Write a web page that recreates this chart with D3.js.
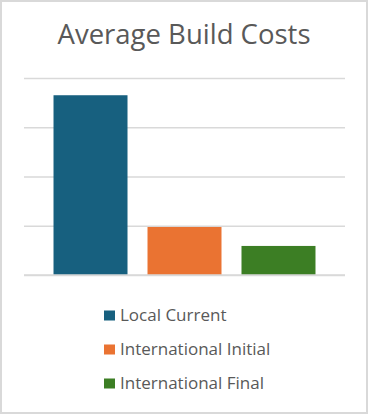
<!DOCTYPE html>
<html><head><meta charset="utf-8">
<script src="https://cdn.jsdelivr.net/npm/d3@7/dist/d3.min.js"></script>
<style>html,body{margin:0;padding:0;background:#fff;}svg{display:block;}</style>
</head><body>
<svg id="chart" width="368" height="414"></svg>
<script>
const title = "Average Build Costs";
const categories = ["Local Current", "International Initial", "International Final"];
const values = [365000, 97500, 59000];
const colors = ["#17607F", "#EA7332", "#3C7E24"];
const tickValues = [0, 100000, 200000, 300000, 400000];

const svg = d3.select("#chart");
const W = 368, H = 414;
svg.append("rect").attr("x", 1).attr("y", 1).attr("width", W - 2).attr("height", H - 2)
  .attr("fill", "#fff").attr("stroke", "#d9d9d9").attr("stroke-width", 2);

svg.append("text").attr("x", 184).attr("y", 44).attr("text-anchor", "middle")
  .attr("font-family", "Open Sans").attr("font-size", 27.5).attr("fill", "#595959")
  .text(title);

const x = d3.scaleBand().domain(categories).range([24, 345]).paddingInner(0.2128).paddingOuter(0.314);
const y = d3.scaleLinear().domain([0, 400000]).range([275, 78]);

const axis = d3.axisLeft(y).tickValues(tickValues).tickSize(-(345 - 24)).tickFormat("");
const g = svg.append("g").attr("transform", "translate(24,0)").call(axis);
g.select(".domain").remove();
g.selectAll(".tick line").attr("stroke", "#d9d9d9").attr("stroke-width", 1.5);

svg.append("g").selectAll("rect").data(categories).join("rect")
  .attr("x", d => x(d)).attr("width", x.bandwidth())
  .attr("y", (d, i) => y(values[i])).attr("height", (d, i) => y(0) - y(values[i]))
  .attr("fill", (d, i) => colors[i]);

svg.append("line").attr("x1", 24).attr("x2", 345).attr("y1", y(0)).attr("y2", y(0))
  .attr("stroke", "#d9d9d9").attr("stroke-width", 1.5);

const leg = svg.append("g").selectAll("g").data(categories).join("g")
  .attr("transform", (d, i) => `translate(104,${310.5 + i * 34})`);
leg.append("rect").attr("width", 11).attr("height", 10).attr("fill", (d, i) => colors[i]);
leg.append("text").attr("x", 16).attr("y", 10.5)
  .attr("font-family", "Open Sans").attr("font-size", 17).attr("fill", "#595959")
  .text(d => d);
</script>
</body></html>
